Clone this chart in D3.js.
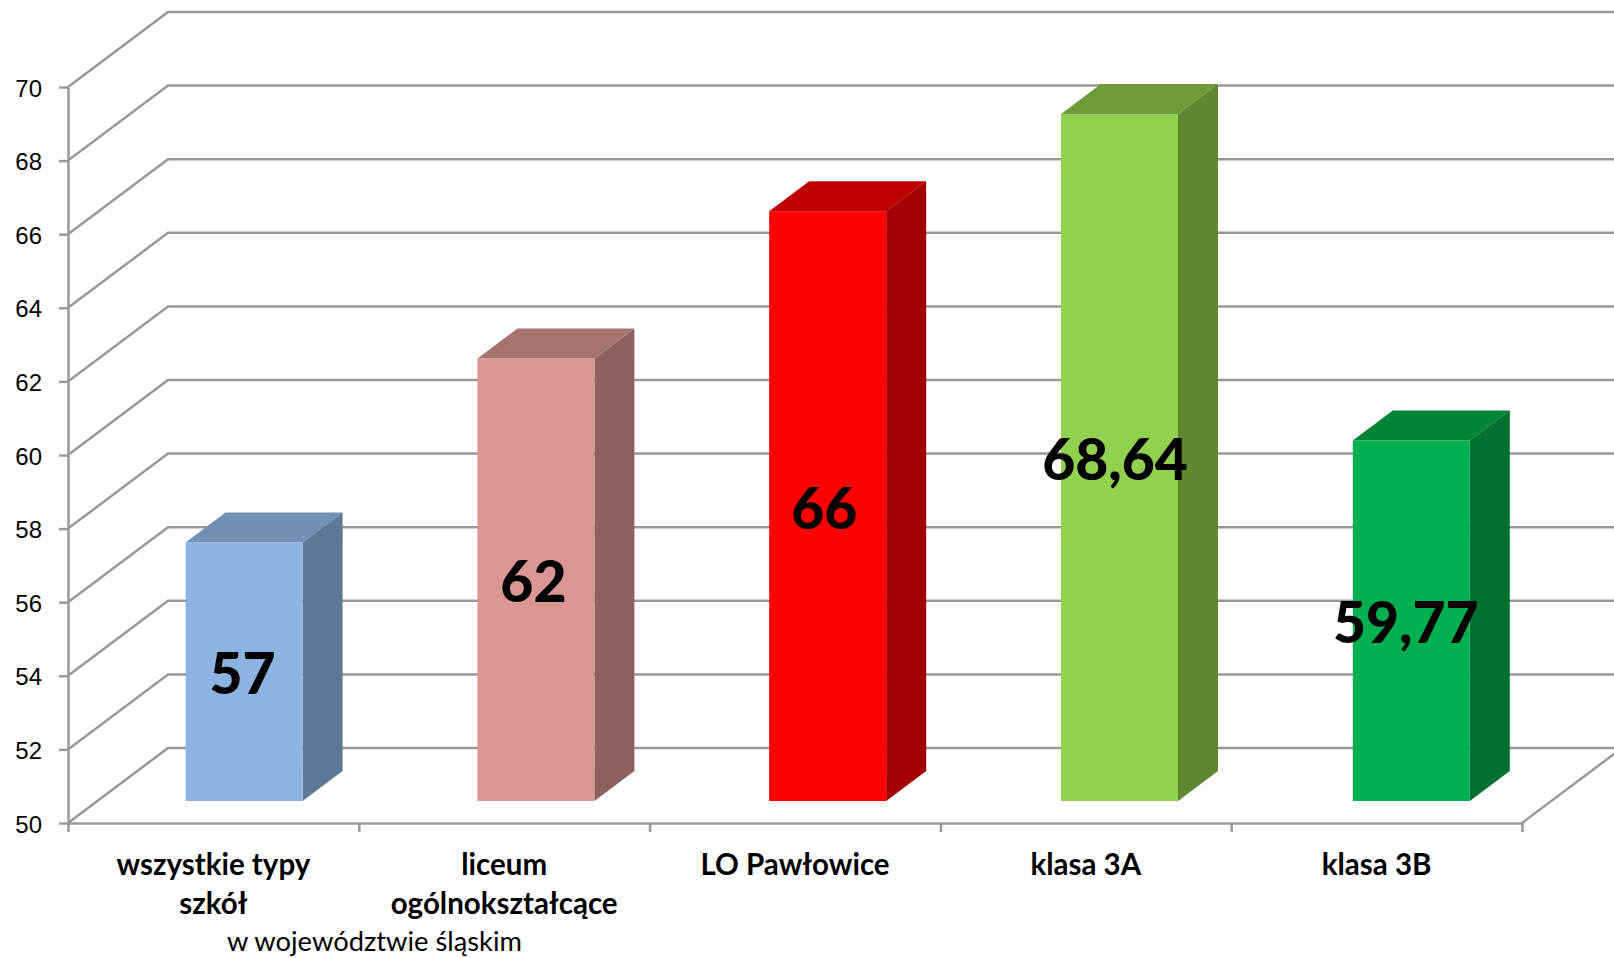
<!DOCTYPE html>
<html lang="pl">
<head>
<meta charset="utf-8">
<title>Wykres słupkowy</title>
<script src="https://d3js.org/d3.v7.min.js"></script>
<style>
  html, body { margin: 0; background: #fff; }
  svg { display: block; font-family: Lato, "Open Sans", sans-serif; }
  .axis path, .axis line, .grid { stroke: #999; stroke-width: 2.5; fill: none; }
  .axis text { font-size: 24px; fill: #000; }
  .cat { font-size: 29.5px; font-weight: 700; text-anchor: middle; }
  .val { font-size: 57px; font-weight: 900; text-anchor: middle; }
</style>
</head>
<body>
<div id="chart"></div>
<script>
// data
var categories = [["wszystkie typy", "szkół"], ["liceum", "ogólnokształcące"], ["LO Pawłowice"], ["klasa 3A"], ["klasa 3B"]];
var values = [57, 62, 66, 68.64, 59.77];
var yTicks = [50, 52, 54, 56, 58, 60, 62, 64, 66, 68, 70];
var note = "w województwie śląskim";

// colours of the three visible faces
var frontColors = ["#8db3e2", "#d99694", "#ff0000", "#92d050", "#00b050"];
var topColors = ["#7190b6", "#a67370", "#bf0000", "#6f9a3a", "#008438"];
var sideColors = ["#5e7898", "#8f6060", "#a50000", "#5f8830", "#00702f"];

var width = 1614, height = 958;

var svg = d3.select("#chart").append("svg")
  .attr("width", width)
  .attr("height", height);

// scales
var y = d3.scaleLinear().domain([50, 70]).range([823, 87]);
var x = d3.scaleBand().domain(d3.range(values.length)).range([68, 1522]);
// bars sit on a slightly wider step than the axis ticks in the original
var xBar = d3.scaleBand().domain(d3.range(values.length)).range([68, 1527]);

// 3D offsets
var wallDx = 100, wallDy = -75;     // front of the floor to the back wall
var barDx = 40, barDy = -30;        // depth of a bar
var barLift = -22;                  // bars stand a bit behind the front edge
var barLeft = xBar.bandwidth() * 0.403, barWidth = 117;

function barTop(d) { return y(d) + barLift - 1; }

// gridlines: from the axis back to the wall, then along the wall
var gridLine = d3.line();
svg.append("g").selectAll("path")
  .data(yTicks)
  .enter()
  .append("path")
    .attr("class", "grid")
    .attr("d", function(d) {
      return gridLine([[x.range()[0], y(d)], [x.range()[0] + wallDx, y(d) + wallDy], [x.range()[1] + wallDx, y(d) + wallDy]]);
    });

// floor edge on the right
svg.append("path")
  .attr("class", "grid")
  .attr("d", gridLine([[x.range()[1], y(50)], [x.range()[1] + wallDx, y(50) + wallDy]]));

// axes
svg.append("g")
  .attr("class", "axis")
  .attr("transform", "translate(" + x.range()[0] + ",0)")
  .call(d3.axisLeft(y).tickValues(yTicks).tickSize(9).tickPadding(17).tickSizeOuter(0))
  .selectAll("text")
    .attr("transform", "translate(0,1.5)");

var xEdges = d3.scaleLinear().domain([0, values.length]).range(x.range());
svg.append("g")
  .attr("class", "axis")
  .attr("transform", "translate(0," + y(50) + ")")
  .call(d3.axisBottom(xEdges).ticks(values.length).tickFormat("").tickSize(9).tickSizeOuter(0));

// bars
var bars = svg.append("g").selectAll("g")
  .data(values)
  .enter()
  .append("g");

function poly(points) {
  return points.map(function(p) { return p.join(","); }).join(" ");
}

// top face
bars.append("polygon")
  .attr("fill", function(d, i) { return topColors[i]; })
  .attr("points", function(d, i) {
    var l = xBar(i) + barLeft, t = barTop(d);
    return poly([[l, t], [l + barWidth, t], [l + barWidth + barDx, t + barDy], [l + barDx, t + barDy]]);
  });

// side face
bars.append("polygon")
  .attr("fill", function(d, i) { return sideColors[i]; })
  .attr("points", function(d, i) {
    var r = xBar(i) + barLeft + barWidth, t = barTop(d), b = y(50) + barLift;
    return poly([[r, t], [r + barDx, t + barDy], [r + barDx, b + barDy], [r, b]]);
  });

// front face
bars.append("rect")
  .attr("fill", function(d, i) { return frontColors[i]; })
  .attr("x", function(d, i) { return xBar(i) + barLeft; })
  .attr("y", barTop)
  .attr("width", barWidth)
  .attr("height", function(d) { return y(50) + barLift - barTop(d); });

// value labels
svg.append("g").selectAll("text")
  .data(values)
  .enter()
  .append("text")
    .attr("class", "val")
    .attr("x", function(d, i) { return x(i) + barLeft + barWidth / 2 - 1.5; })
    .attr("y", function(d) { return y((d + 50) / 2) + barLift + 22; })
    .text(function(d) { return String(d).replace(".", ","); });

// category labels
var cats = svg.append("g").selectAll("text")
  .data(categories)
  .enter()
  .append("text")
    .attr("class", "cat")
    .attr("x", function(d, i) { return x(i) + x.bandwidth() / 2; })
    .attr("y", 874.5);

cats.selectAll("tspan")
  .data(function(d) { return d; })
  .enter()
  .append("tspan")
    .attr("x", function() { return d3.select(this.parentNode).attr("x"); })
    .attr("dy", function(d, i) { return i ? 39 : 0; })
    .text(function(d) { return d; });

svg.append("text")
  .attr("x", 374.5)
  .attr("y", 951)
  .attr("text-anchor", "middle")
  .style("font-size", "27.3px")
  .text(note);
</script>
</body>
</html>
